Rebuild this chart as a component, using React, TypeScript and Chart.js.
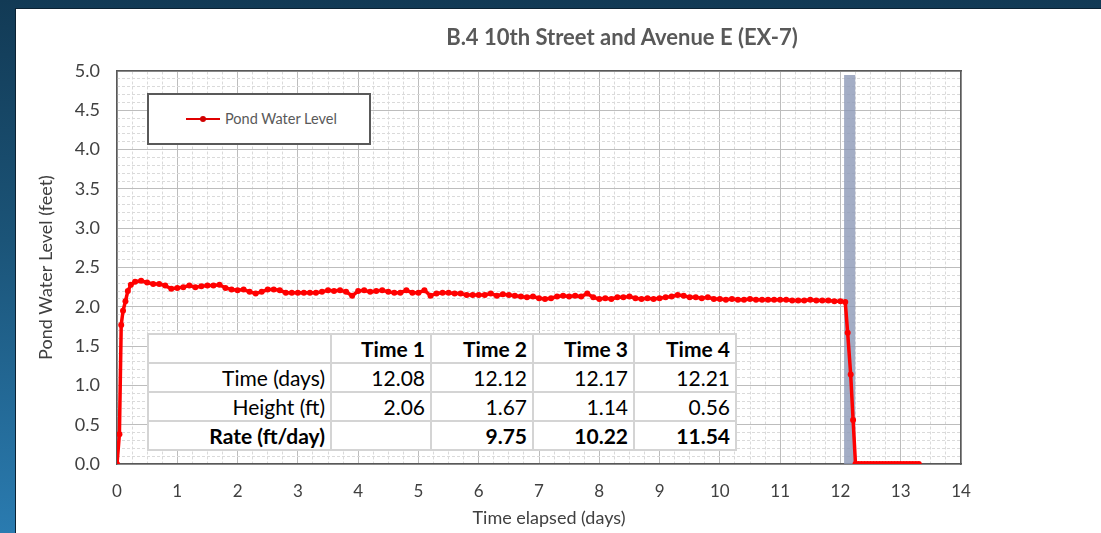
import React, { useEffect, useRef } from 'react';
import { Chart, registerables } from 'chart.js';

Chart.register(...registerables);

const TITLE = 'B.4 10th Street and Avenue E (EX-7)';
const SERIES_LABEL = 'Pond Water Level';
const X_TITLE = 'Time elapsed (days)';
const Y_TITLE = 'Pond Water Level (feet)';

// elapsed time (days)
const times = [
  0, 0.04, 0.07, 0.1, 0.14, 0.18, 0.23,
  0.3, 0.4, 0.5, 0.6, 0.7, 0.8, 0.9, 1.0, 1.1, 1.2, 1.3, 1.4, 1.5, 1.6, 1.7, 1.8, 1.9,
  2.0, 2.1, 2.2, 2.3, 2.4, 2.5, 2.6, 2.7, 2.8, 2.9, 3.0, 3.1, 3.2, 3.3, 3.4, 3.5, 3.6, 3.7, 3.8, 3.9,
  4.0, 4.1, 4.2, 4.3, 4.4, 4.5, 4.6, 4.7, 4.8, 4.9, 5.0, 5.1, 5.2, 5.3, 5.4, 5.5, 5.6, 5.7, 5.8, 5.9,
  6.0, 6.1, 6.2, 6.3, 6.4, 6.5, 6.6, 6.7, 6.8, 6.9, 7.0, 7.1, 7.2, 7.3, 7.4, 7.5, 7.6, 7.7, 7.8, 7.9,
  8.0, 8.1, 8.2, 8.3, 8.4, 8.5, 8.6, 8.7, 8.8, 8.9, 9.0, 9.1, 9.2, 9.3, 9.4, 9.5, 9.6, 9.7, 9.8, 9.9,
  10.0, 10.1, 10.2, 10.3, 10.4, 10.5, 10.6, 10.7, 10.8, 10.9, 11.0, 11.1, 11.2, 11.3, 11.4, 11.5, 11.6, 11.7, 11.8, 11.9,
  12.0, 12.08, 12.12, 12.17, 12.21, 12.25,
  12.3, 12.35, 12.4, 12.45, 12.5, 12.55, 12.6, 12.65, 12.7, 12.75, 12.8, 12.85, 12.9, 12.95, 13.0, 13.05, 13.1, 13.15, 13.2, 13.25, 13.3,
];

// pond water level (feet)
const levels = [
  0, 0.38, 1.77, 1.95, 2.07, 2.2, 2.28,
  2.32, 2.33, 2.31, 2.29, 2.29, 2.27, 2.23, 2.24, 2.25, 2.27, 2.25, 2.26, 2.27, 2.27, 2.28, 2.24, 2.22,
  2.21, 2.22, 2.19, 2.17, 2.19, 2.22, 2.22, 2.21, 2.18, 2.18, 2.18, 2.18, 2.18, 2.18, 2.19, 2.21, 2.2, 2.21, 2.19, 2.14,
  2.2, 2.21, 2.19, 2.2, 2.21, 2.19, 2.18, 2.18, 2.21, 2.18, 2.18, 2.21, 2.14, 2.17, 2.18, 2.18, 2.17, 2.17, 2.15, 2.15,
  2.15, 2.15, 2.17, 2.14, 2.16, 2.15, 2.14, 2.13, 2.12, 2.13, 2.11, 2.1, 2.11, 2.13, 2.14, 2.13, 2.14, 2.13, 2.17, 2.12,
  2.1, 2.11, 2.1, 2.12, 2.12, 2.13, 2.11, 2.1, 2.11, 2.1, 2.11, 2.12, 2.13, 2.15, 2.14, 2.12, 2.12, 2.11, 2.12, 2.1,
  2.1, 2.09, 2.1, 2.09, 2.09, 2.1, 2.09, 2.09, 2.09, 2.09, 2.09, 2.09, 2.08, 2.08, 2.08, 2.09, 2.08, 2.08, 2.08, 2.07,
  2.07, 2.06, 1.67, 1.14, 0.56, 0,
  0, 0, 0, 0, 0, 0, 0, 0, 0, 0, 0, 0, 0, 0, 0, 0, 0, 0, 0, 0, 0,
];

// highlighted drawdown window (days) and its top (feet)
const bandTimes = [12.06, 12.25];
const bandLevels = [4.95, 4.95];

// inset table
const tableHeaders = ['Time 1', 'Time 2', 'Time 3', 'Time 4'];
const tableRowLabels = ['Time (days)', 'Height (ft)', 'Rate (ft/day)'];
const tableTimes = ['12.08', '12.12', '12.17', '12.21'];
const tableHeights = ['2.06', '1.67', '1.14', '0.56'];
const tableRates = ['', '9.75', '10.22', '11.54'];

const FONT = 'Lato, Carlito, "Open Sans", sans-serif';
const TEXT = '#404040';

export default function App() {
  const canvasRef = useRef<HTMLCanvasElement | null>(null);

  useEffect(() => {
    const canvas = canvasRef.current;
    if (!canvas) return;
    const isInt = (v: number) => Math.abs(v - Math.round(v)) < 1e-6;
    const isHalf = (v: number) => Math.abs(v * 2 - Math.round(v * 2)) < 1e-6;
    const chart = new Chart(canvas, {
      type: 'line',
      data: {
        datasets: [
          {
            label: SERIES_LABEL,
            data: times.map((t, i) => ({ x: t, y: levels[i] })),
            borderColor: '#ff0000',
            backgroundColor: '#ff0000',
            pointBackgroundColor: '#ff0000',
            pointBorderWidth: 0,
            pointRadius: 3,
            borderWidth: 3.5,
            tension: 0,
            order: 1,
          },
          {
            label: 'window',
            data: bandTimes.map((t, i) => ({ x: t, y: bandLevels[i] })),
            fill: 'origin',
            backgroundColor: 'rgba(140, 152, 182, 0.8)',
            borderWidth: 0,
            pointRadius: 0,
            order: 2,
          },
        ],
      },
      options: {
        responsive: false,
        animation: false,
        layout: { padding: { top: 71, right: 140, left: 0, bottom: 0 } },
        plugins: {
          legend: { display: false },
          title: { display: false },
          tooltip: { enabled: false },
        },
        scales: {
          x: {
            type: 'linear',
            position: 'bottom',
            min: 0,
            max: 14,
            ticks: { stepSize: 1, padding: 17, color: TEXT, font: { family: FONT, size: 17 } },
            grid: { color: '#bdbdbd', lineWidth: 1, drawTicks: false },
            border: { color: '#595959', width: 1.5 },
            title: { display: false },
            afterFit: (s: any) => { s.height = 69; },
          },
          xMinor: {
            type: 'linear',
            position: 'top',
            min: 0,
            max: 14,
            ticks: { display: false, stepSize: 0.25, autoSkip: false },
            grid: {
              drawTicks: false,
              color: (c: any) => (c.tick && isInt(c.tick.value) ? 'rgba(0,0,0,0)' : '#dadada'),
            },
            border: { display: true, color: '#595959', width: 1.5, dash: [3, 2] },
            afterFit: (s: any) => { s.height = 0; },
          },
          y: {
            type: 'linear',
            position: 'left',
            min: 0,
            max: 5,
            ticks: {
              stepSize: 0.5,
              padding: 17,
              color: TEXT,
              font: { family: FONT, size: 18 },
              callback: (v: any) => Number(v).toFixed(1),
            },
            grid: { color: '#bdbdbd', lineWidth: 1, drawTicks: false },
            border: { color: '#595959', width: 1.5 },
            title: {
              display: true,
              text: Y_TITLE,
              color: TEXT,
              font: { family: FONT, size: 18 },
              padding: { top: 35, bottom: 0 },
            },
            afterFit: (s: any) => { s.width = 117; },
          },
          yMinor: {
            type: 'linear',
            position: 'right',
            min: 0,
            max: 5,
            ticks: { display: false, stepSize: 0.1, autoSkip: false },
            grid: {
              drawTicks: false,
              color: (c: any) => (c.tick && isHalf(c.tick.value) ? 'rgba(0,0,0,0)' : '#dadada'),
            },
            border: { display: true, color: '#595959', width: 1.5, dash: [3, 2] },
            afterFit: (s: any) => { s.width = 0; },
          },
        },
      },
    } as any);
    return () => chart.destroy();
  }, []);

  const cell: React.CSSProperties = {
    border: '2px solid #d4d4d4',
    textAlign: 'right',
    padding: '0 5px 0 0',
    height: 27,
    lineHeight: '27px',
    whiteSpace: 'nowrap',
  };

  return (
    <div
      style={{
        position: 'absolute',
        left: 0,
        top: 0,
        width: 1101,
        height: 533,
        overflow: 'hidden',
        background: 'linear-gradient(to bottom, #123a55 0%, #1b5478 45%, #2a7bb0 100%)',
        fontFamily: FONT,
      }}
    >
      <div
        style={{
          position: 'absolute',
          left: 15,
          top: 8,
          right: 0,
          bottom: 0,
          background: '#ffffff',
          borderLeft: '1px solid #0b2233',
          borderTop: '1px solid #0b2233',
        }}
      />
      <canvas
        ref={canvasRef}
        width={1101}
        height={533}
        style={{ position: 'absolute', left: 0, top: 0, width: 1101, height: 533 }}
      />
      <div
        style={{
          position: 'absolute',
          left: 372,
          top: 23,
          width: 500,
          textAlign: 'center',
          fontSize: 22,
          fontWeight: 'bold',
          color: '#595959',
          lineHeight: '28px',
        }}
      >
        {TITLE}
      </div>
      <div
        style={{
          position: 'absolute',
          left: 399,
          top: 506,
          width: 300,
          textAlign: 'center',
          fontSize: 18,
          color: TEXT,
          lineHeight: '22px',
        }}
      >
        {X_TITLE}
      </div>
      <div
        style={{
          position: 'absolute',
          left: 147,
          top: 93,
          width: 220,
          height: 48,
          border: '2px solid #595959',
          background: '#ffffff',
        }}
      >
        <div style={{ position: 'absolute', left: 37, top: 23, width: 34, height: 2, background: '#e00000' }} />
        <div
          style={{
            position: 'absolute',
            left: 51,
            top: 21,
            width: 6,
            height: 6,
            borderRadius: 3,
            background: '#d00000',
          }}
        />
        <div
          style={{
            position: 'absolute',
            left: 76,
            top: 15,
            fontSize: 14.5,
            color: '#595959',
            lineHeight: '18px',
            whiteSpace: 'nowrap',
          }}
        >
          {SERIES_LABEL}
        </div>
      </div>
      <table
        style={{
          position: 'absolute',
          left: 147,
          top: 333,
          borderCollapse: 'collapse',
          background: '#ffffff',
          fontSize: 21,
          color: '#000000',
          tableLayout: 'fixed',
        }}
      >
        <colgroup>
          <col style={{ width: 183 }} />
          <col style={{ width: 100 }} />
          <col style={{ width: 102 }} />
          <col style={{ width: 101 }} />
          <col style={{ width: 102 }} />
        </colgroup>
        <tbody>
          <tr>
            <td style={cell}></td>
            {tableHeaders.map((h) => (
              <td key={h} style={{ ...cell, fontWeight: 'bold' }}>{h}</td>
            ))}
          </tr>
          <tr>
            <td style={cell}>{tableRowLabels[0]}</td>
            {tableTimes.map((v, i) => (
              <td key={i} style={cell}>{v}</td>
            ))}
          </tr>
          <tr>
            <td style={cell}>{tableRowLabels[1]}</td>
            {tableHeights.map((v, i) => (
              <td key={i} style={cell}>{v}</td>
            ))}
          </tr>
          <tr>
            <td style={{ ...cell, fontWeight: 'bold' }}>{tableRowLabels[2]}</td>
            {tableRates.map((v, i) => (
              <td key={i} style={{ ...cell, fontWeight: 'bold' }}>{v}</td>
            ))}
          </tr>
        </tbody>
      </table>
    </div>
  );
}
